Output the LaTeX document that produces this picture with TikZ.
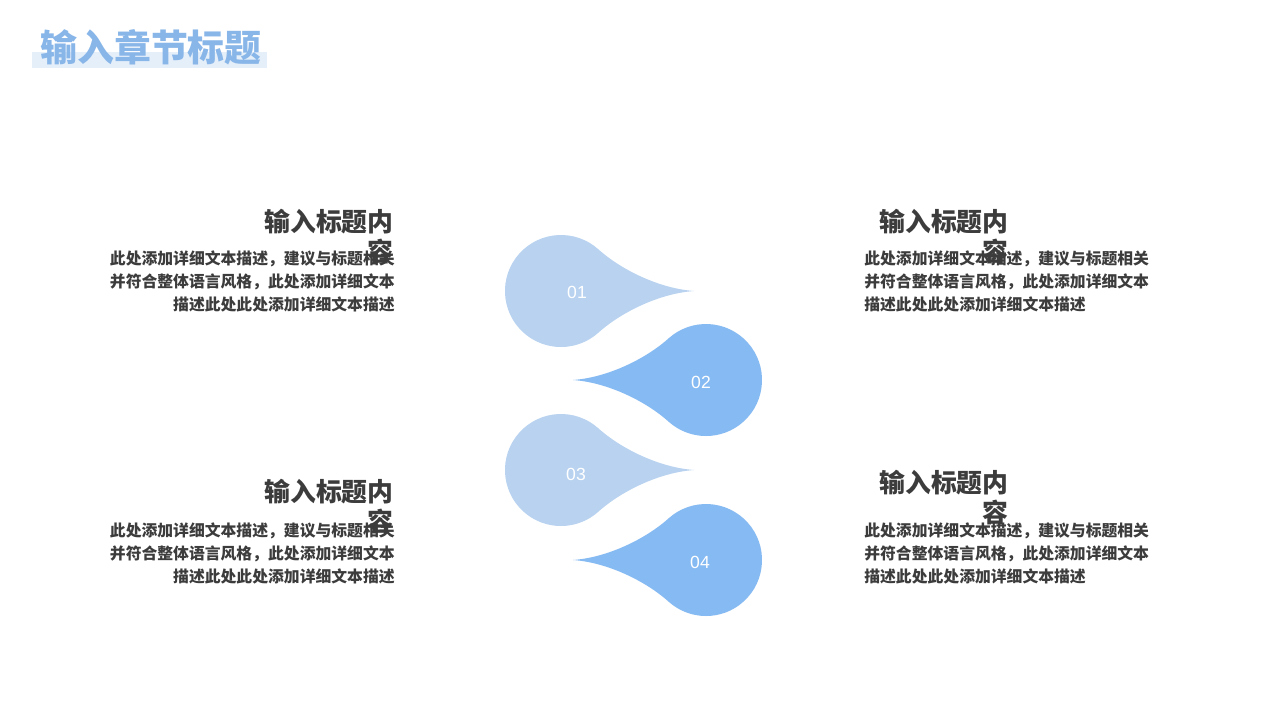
\documentclass[tikz,border=0pt]{standalone}
\usepackage{fontspec}
\setmainfont{Liberation Sans}
\newfontfamily\cjk{Noto Sans CJK SC}
\usetikzlibrary{positioning}

\definecolor{headblue}{HTML}{89B6E8}
\definecolor{bandblue}{HTML}{E5EFFA}
\definecolor{droplight}{HTML}{B8D2F0}
\definecolor{dropdark}{HTML}{86BAF2}
\definecolor{textgray}{HTML}{3C3C3C}

\tikzset{
  pics/drop/.style={code={
    \fill[#1] (2.66,0) .. controls (1.96,0.05) and (1.196,0.43) .. (0.749,0.832)
      arc[start angle=48, end angle=312, radius=1.12]
      .. controls (1.196,-0.43) and (1.96,-0.05) .. (2.66,0) -- cycle;
  }}
}

\begin{document}
\begin{tikzpicture}[
    heading/.style={font=\cjk\bfseries\fontsize{21}{25}\selectfont, text=headblue, inner sep=0},
    itemtitle/.style={font=\cjk\bfseries\fontsize{14.7}{17}\selectfont, text=textgray, inner sep=0, align=right},
    itembody/.style={font=\cjk\bfseries\fontsize{9}{13.3}\selectfont, text=textgray, inner sep=0},
    numlabel/.style={font=\fontsize{10}{12}\selectfont, text=white, inner sep=0}
  ]
  \fill[white] (0,0) rectangle (25.6,14.4);
  \useasboundingbox (0,0) rectangle (25.6,14.4);

  % heading
  \fill[bandblue] (0.64,13.04) rectangle (5.34,13.36);
  \node[heading, anchor=west] (heading) at (0.8,13.46) {输入章节标题};

  % drops
  \pic at (11.22,8.58) {drop=droplight};
  \pic[xscale=-1] at (14.12,6.8) {drop=dropdark};
  \pic at (11.22,5.0) {drop=droplight};
  \pic[xscale=-1] at (14.12,3.2) {drop=dropdark};
  \node[numlabel] (n1) at (11.54,8.56) {01};
  \node[numlabel] (n2) at (14.02,6.76) {02};
  \node[numlabel] (n3) at (11.52,4.92) {03};
  \node[numlabel] (n4) at (14.0,3.16) {04};

  % item 1
  \node[itemtitle, anchor=north east] (t1) at (7.88,10.22) {输入标题内\\容};
  \node[itembody, anchor=north east, align=right] (b1) at (7.9,9.4)
    {此处添加详细文本描述，建议与标题相关\\并符合整体语言风格，此处添加详细文本\\描述此处此处添加详细文本描述};

  % item 2
  \node[itemtitle, anchor=north west] (t2) at (17.58,10.22) {输入标题内\\容};
  \node[itembody, anchor=north west, align=left] (b2) at (17.28,9.4)
    {此处添加详细文本描述，建议与标题相关\\并符合整体语言风格，此处添加详细文本\\描述此处此处添加详细文本描述};

  % item 3
  \node[itemtitle, anchor=north east] (t3) at (7.88,4.82) {输入标题内\\容};
  \node[itembody, anchor=north east, align=right] (b3) at (7.9,3.96)
    {此处添加详细文本描述，建议与标题相关\\并符合整体语言风格，此处添加详细文本\\描述此处此处添加详细文本描述};

  % item 4
  \node[itemtitle, anchor=north west] (t4) at (17.58,5.0) {输入标题内\\容};
  \node[itembody, anchor=north west, align=left] (b4) at (17.28,3.96)
    {此处添加详细文本描述，建议与标题相关\\并符合整体语言风格，此处添加详细文本\\描述此处此处添加详细文本描述};
\end{tikzpicture}
\end{document}
